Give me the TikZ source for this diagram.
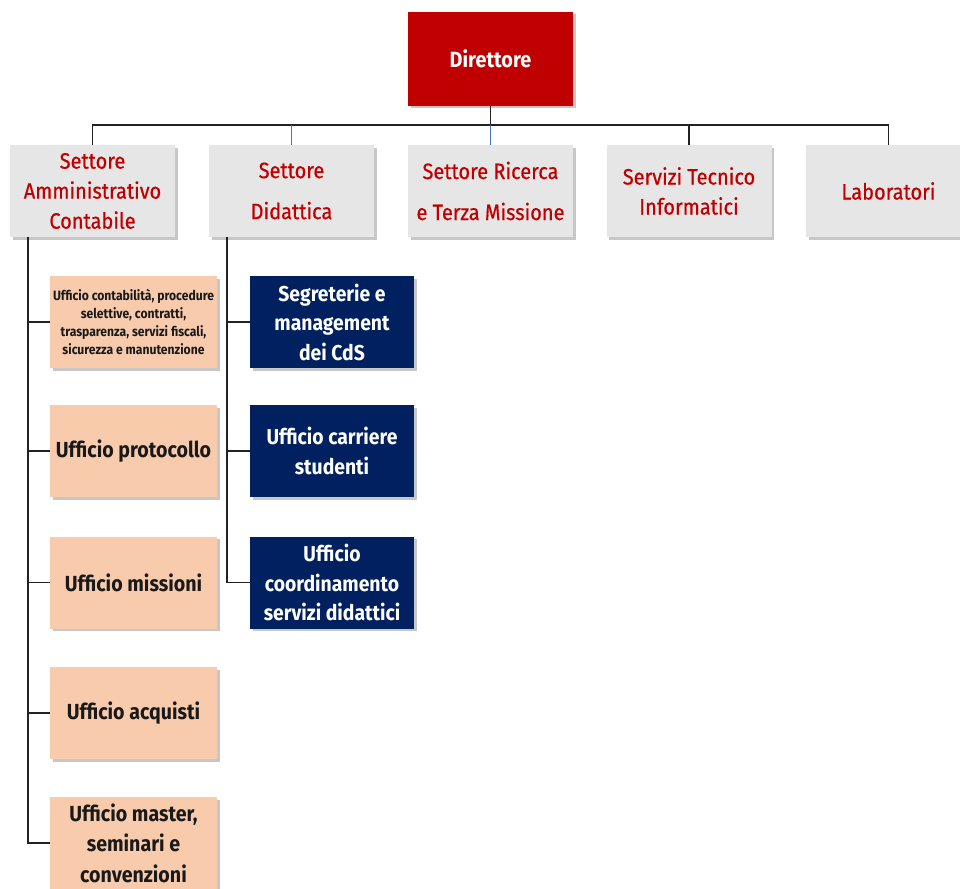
\documentclass[tikz,border=0pt]{standalone}
\usepackage{fontspec}
\setmainfont{Fira Sans}[FakeStretch=0.9]
\newfontfamily\medfont{Fira Sans}[FakeStretch=0.9,FakeBold=0.6]
\usetikzlibrary{shadows,calc}
\definecolor{secgray}{HTML}{E6E6E6}
\definecolor{secred}{HTML}{C00000}
\definecolor{offorange}{HTML}{F8CBAD}
\definecolor{offnavy}{HTML}{002060}
\definecolor{linegray}{HTML}{222222}
\definecolor{linkblue}{HTML}{4472C4}
\tikzset{
  boxshadow/.style={drop shadow={shadow xshift=2.5pt,shadow yshift=-2.5pt,fill=black,opacity=0.22}},
  dirbox/.style={fill=secred,text=white,minimum width=165pt,minimum height=94pt,align=center,inner sep=0pt,boxshadow,font=\fontsize{22}{25}\selectfont\bfseries},
  secbox/.style={fill=secgray,text=secred,minimum width=165pt,minimum height=92pt,align=center,inner sep=0pt,boxshadow,font=\fontsize{22.2}{30}\medfont},
  navybox/.style={fill=offnavy,text=white,minimum width=164pt,minimum height=92pt,align=center,inner sep=0pt,boxshadow,font=\fontsize{21.5}{29.5}\selectfont\bfseries},
  orangebox/.style={fill=offorange,text=black!90,minimum width=167pt,minimum height=92pt,align=center,inner sep=0pt,boxshadow,font=\fontsize{21.8}{30.5}\selectfont\bfseries},
  smallorange/.style={orangebox,font=\fontsize{13.5}{18}\selectfont\bfseries},
  conn/.style={draw=linegray,line width=1.5pt},
  bluelink/.style={draw=linkblue,line width=0.9pt},
}
\begin{document}
\begin{tikzpicture}[x=1pt,y=-1pt]
\useasboundingbox (0,0) rectangle (960,888);
% top
\node[dirbox] (dir) at (490.5,59) {Direttore};
% sectors
\node[secbox] (s1) at (92.5,191) {Settore\\Amministrativo\\Contabile};
\node[secbox] (s2) at (291.5,191) {Settore\\[11pt]Didattica};
\node[secbox] (s3) at (490.5,191) {Settore Ricerca\\[11pt]e Terza Missione};
\node[secbox] (s4) at (689,191) {Servizi Tecnico\\Informatici};
\node[secbox] (s5) at (888.5,191) {Laboratori};
% administrative offices
\node[smallorange] (o1) at (133.5,322) {Ufficio contabilità, procedure\\selettive, contratti,\\trasparenza, servizi fiscali,\\sicurezza e manutenzione};
\node[orangebox] (o2) at (133.5,451) {Ufficio protocollo};
\node[orangebox] (o3) at (133.5,582.5) {Ufficio missioni};
\node[orangebox] (o4) at (133.5,713) {Ufficio acquisti};
\node[orangebox] (o5) at (133.5,843) {Ufficio master,\\seminari e\\convenzioni};
% didactic offices
\node[navybox] (n1) at (332,322) {Segreterie e\\management\\dei CdS};
\node[navybox] (n2) at (332,451) {Ufficio carriere\\studenti};
\node[navybox] (n3) at (332,582.5) {Ufficio\\coordinamento\\servizi didattici};
% bus
\coordinate (bus) at (490.5,125);
\draw[conn] (dir.south) -- (bus);
\draw[conn] (s1.north) -- (s1.north |- bus) -- (s5.north |- bus) -- (s5.north);
\draw[conn] (s4.north) -- (s4.north |- bus);
\draw[bluelink] (s2.north) -- (s2.north |- bus);
\draw[bluelink] (s3.north) -- (bus);
% left trunk
\coordinate (aL) at ($(s1.south west)+(18,0)$);
\draw[conn] (aL) |- (o5.west);
\foreach \o in {o1,o2,o3,o4}{\draw[conn] (aL |- \o.west) -- (\o.west);}
% didattica trunk
\coordinate (dL) at ($(s2.south west)+(18,0)$);
\draw[conn] (dL) |- (n3.west);
\foreach \o in {n1,n2}{\draw[conn] (dL |- \o.west) -- (\o.west);}
\end{tikzpicture}
\end{document}
